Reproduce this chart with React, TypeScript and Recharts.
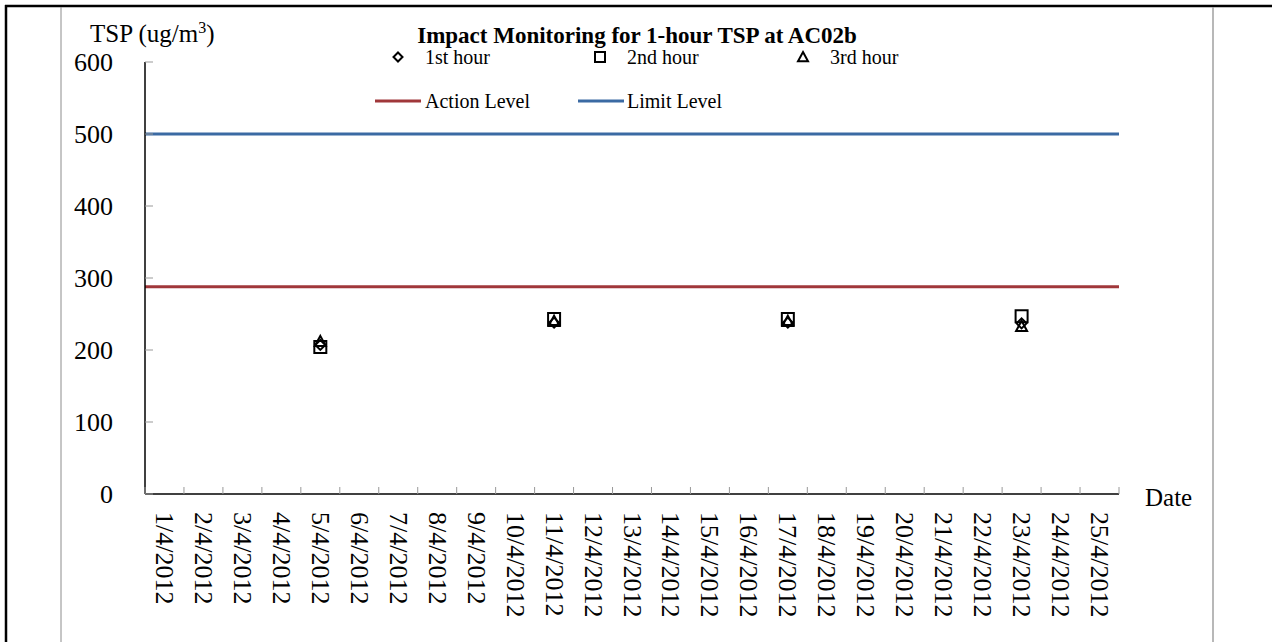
import React from 'react';
import { ComposedChart, Line, XAxis, YAxis, ReferenceLine, Legend } from 'recharts';

// categories on the x axis (one per day)
const dates = [
  '1/4/2012', '2/4/2012', '3/4/2012', '4/4/2012', '5/4/2012',
  '6/4/2012', '7/4/2012', '8/4/2012', '9/4/2012', '10/4/2012',
  '11/4/2012', '12/4/2012', '13/4/2012', '14/4/2012', '15/4/2012',
  '16/4/2012', '17/4/2012', '18/4/2012', '19/4/2012', '20/4/2012',
  '21/4/2012', '22/4/2012', '23/4/2012', '24/4/2012', '25/4/2012',
];

// monitoring days and the three hourly readings
const sampleDates = ['5/4/2012', '11/4/2012', '17/4/2012', '23/4/2012'];
const hour1 = [207, 238, 238, 237];
const hour2 = [204, 243, 243, 247];
const hour3 = [212, 240, 240, 233];

const yTicks = [0, 100, 200, 300, 400, 500, 600];
const ACTION_LEVEL = 288;
const LIMIT_LEVEL = 500;

const data = dates.map(d => {
  const i = sampleDates.indexOf(d);
  return {
    date: d,
    h1: i >= 0 ? hour1[i] : null,
    h2: i >= 0 ? hour2[i] : null,
    h3: i >= 0 ? hour3[i] : null,
  };
});

// layout
const W = 1272;
const H = 642;
const PLOT_LEFT = 145;
const PLOT_TOP = 62;
const PLOT_RIGHT = 1119;
const PLOT_BOTTOM = 494;
const BAND = (PLOT_RIGHT - PLOT_LEFT) / dates.length;
const FONT = "'Liberation Serif', 'Times New Roman', serif";
const ACTION_COLOR = '#A0373A';
const LIMIT_COLOR = '#3B6AA3';
const TICK_COLOR = '#999999';

const diamondPath = (cx: number, cy: number, s: number) =>
  `M${cx},${cy - s}L${cx + s},${cy}L${cx},${cy + s}L${cx - s},${cy}Z`;
const squarePath = (cx: number, cy: number, s: number) =>
  `M${cx - s},${cy - s}H${cx + s}V${cy + s}H${cx - s}Z`;
const trianglePath = (cx: number, cy: number, s: number) =>
  `M${cx},${cy - s}L${cx + s},${cy + s * 0.85}L${cx - s},${cy + s * 0.85}Z`;

const makeDot = (shape: (cx: number, cy: number, s: number) => string, size: number) =>
  (props: any) => {
    const { cx, cy, value, index } = props;
    if (value == null || cx == null || cy == null) return <g key={`e-${index}`} />;
    return (
      <path key={`m-${index}`} d={shape(cx, cy, size)} fill="none" stroke="#000" strokeWidth={2} />
    );
  };

const DateTick = (props: any) => {
  const { x, payload, index } = props;
  const half = BAND / 2;
  const top = 512;
  return (
    <g>
      <line x1={x - half} x2={x - half} y1={PLOT_BOTTOM} y2={PLOT_BOTTOM - 7} stroke={TICK_COLOR} />
      {index === dates.length - 1 && (
        <line x1={x + half} x2={x + half} y1={PLOT_BOTTOM} y2={PLOT_BOTTOM - 7} stroke={TICK_COLOR} />
      )}
      <text
        x={x}
        y={top}
        transform={`rotate(90 ${x} ${top})`}
        fontFamily={FONT}
        fontSize={26}
        fill="#000"
        dominantBaseline="central"
      >
        {payload.value}
      </text>
    </g>
  );
};

const ValueTick = (props: any) => {
  const { y, payload } = props;
  return (
    <g>
      <line x1={PLOT_LEFT} x2={PLOT_LEFT + 8} y1={y} y2={y} stroke={TICK_COLOR} />
      <text x={113} y={y} textAnchor="end" dominantBaseline="central" fontFamily={FONT} fontSize={26} fill="#000">
        {payload.value}
      </text>
    </g>
  );
};

const LegendBox = () => (
  <svg width={W} height={130} style={{ display: 'block' }}>
    <g fontFamily={FONT} fontSize={20} fill="#000">
      <path d={diamondPath(398, 57, 4.5)} fill="none" stroke="#000" strokeWidth={2} />
      <text x={425} y={64}>1st hour</text>
      <path d={squarePath(600, 57, 5)} fill="none" stroke="#000" strokeWidth={2} />
      <text x={627} y={64}>2nd hour</text>
      <path d={trianglePath(803, 57, 5)} fill="none" stroke="#000" strokeWidth={2} />
      <text x={830} y={64}>3rd hour</text>
      <line x1={375} x2={421} y1={101} y2={101} stroke={ACTION_COLOR} strokeWidth={3} />
      <text x={425} y={108}>Action Level</text>
      <line x1={578} x2={624} y1={101} y2={101} stroke={LIMIT_COLOR} strokeWidth={3} />
      <text x={627} y={108}>Limit Level</text>
    </g>
  </svg>
);

export default function App() {
  return (
    <div style={{ position: 'absolute', left: 0, top: 0, width: W, height: H, background: '#fff' }}>
      <ComposedChart
        width={W}
        height={H}
        data={data}
        margin={{ top: PLOT_TOP, right: W - PLOT_RIGHT, bottom: 0, left: 0 }}
      >
        <XAxis
          dataKey="date"
          scale="band"
          interval={0}
          height={H - PLOT_BOTTOM}
          axisLine={{ stroke: '#000', strokeWidth: 1.5 }}
          tickLine={false}
          tick={<DateTick />}
        />
        <YAxis
          width={PLOT_LEFT}
          domain={[0, 600]}
          ticks={yTicks}
          interval={0}
          axisLine={{ stroke: '#000', strokeWidth: 1.5 }}
          tickLine={false}
          tick={<ValueTick />}
        />
        <ReferenceLine y={LIMIT_LEVEL} stroke={LIMIT_COLOR} strokeWidth={3} />
        <ReferenceLine y={ACTION_LEVEL} stroke={ACTION_COLOR} strokeWidth={3} />
        <Line dataKey="h1" stroke="none" dot={makeDot(diamondPath, 5)} activeDot={false} isAnimationActive={false} />
        <Line dataKey="h2" stroke="none" dot={makeDot(squarePath, 6)} activeDot={false} isAnimationActive={false} />
        <Line dataKey="h3" stroke="none" dot={makeDot(trianglePath, 5.5)} activeDot={false} isAnimationActive={false} />
        <Legend
          layout="horizontal"
          verticalAlign="middle"
          align="center"
          content={<LegendBox />}
          wrapperStyle={{ left: 0, top: 0, width: W, height: 130 }}
        />
      </ComposedChart>
      <svg
        width={W}
        height={H}
        style={{ position: 'absolute', left: 0, top: 0, pointerEvents: 'none' }}
      >
        <line x1={5} x2={W} y1={6} y2={6} stroke="#000" strokeWidth={2.5} />
        <line x1={6} x2={6} y1={5} y2={H} stroke="#000" strokeWidth={2.5} />
        <line x1={61} x2={61} y1={7} y2={H} stroke="#8c8c8c" strokeWidth={1} />
        <line x1={1213} x2={1213} y1={7} y2={H} stroke="#a0a0a0" strokeWidth={1.5} />
        <text x={637} y={43} textAnchor="middle" fontFamily={FONT} fontSize={23} fontWeight="bold">
          Impact Monitoring for 1-hour TSP at AC02b
        </text>
        <text x={90} y={42} fontFamily={FONT} fontSize={25}>
          TSP (ug/m<tspan fontSize={16} dy={-9}>3</tspan><tspan dy={9}>)</tspan>
        </text>
        <text x={1145} y={506} fontFamily={FONT} fontSize={25}>Date</text>
      </svg>
    </div>
  );
}
